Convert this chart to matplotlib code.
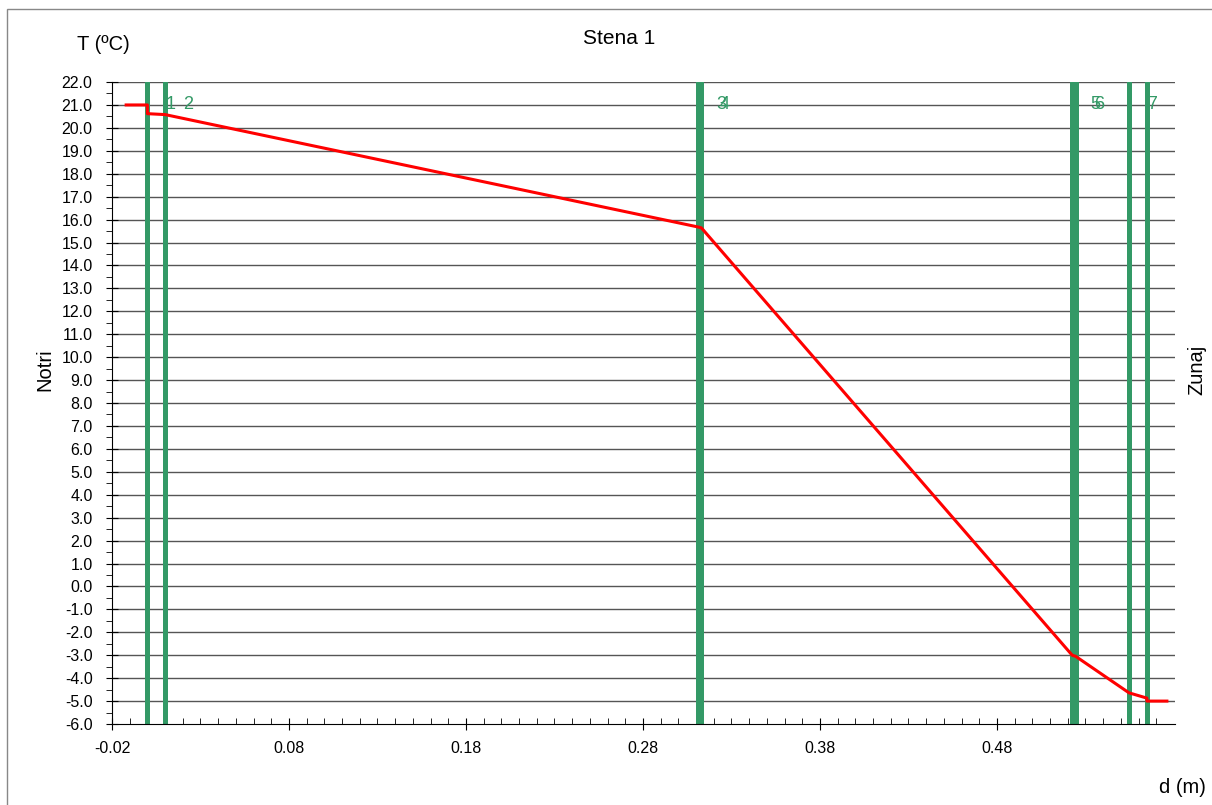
import numpy as np
import matplotlib.pyplot as plt
from matplotlib.ticker import MultipleLocator, FixedLocator
from matplotlib.patches import Rectangle

plt.rcParams['font.family'] = ['Liberation Sans', 'DejaVu Sans']

# Meje plasti (m) in oznake
meje = [0.0, 0.01, 0.311, 0.313, 0.5225, 0.5245, 0.5546, 0.5647]
oznake = ['1', '2', '3', '4', '5', '6', '7']

# Potek temperature skozi steno
d = [-0.012, 0.0, 0.0, 0.01, 0.311, 0.313, 0.5225, 0.5245, 0.5546, 0.5647, 0.5647, 0.576]
T = [21.0, 21.0, 20.62, 20.58, 15.68, 15.64, -3.0, -3.05, -4.64, -4.87, -5.0, -5.0]

fig = plt.figure(figsize=(12.12, 8.05), dpi=100)
ax = fig.add_axes([0.0924, 0.1006, 0.9695 - 0.0924, 0.8981 - 0.1006])

# okvir slike
fig.patches.append(Rectangle((7 / 1212, -0.1), 1.2, 1.1 - 9 / 805,
                             transform=fig.transFigure, fill=False,
                             edgecolor='#888888', linewidth=1.0))

ax.set_xlim(-0.02, 0.5806)
ax.set_ylim(-6.0, 22.0)

for y in np.arange(-5.0, 22.5, 1.0):
    ax.axhline(y, color='#555555', linewidth=1.0, zorder=1)

for x in meje:
    ax.axvline(x, color='#339966', linewidth=3.6, zorder=2)

ax.plot(d, T, color='#ff0000', linewidth=2.2, zorder=3)

for x, s in zip(meje, oznake):
    ax.text(x + 0.0102, 21.0, s, color='#339966', fontsize=13,
            ha='left', va='center', zorder=4)

ax.xaxis.set_major_locator(FixedLocator([-0.02, 0.08, 0.18, 0.28, 0.38, 0.48]))
ax.xaxis.set_minor_locator(FixedLocator(np.arange(-0.02, 0.58, 0.01)))
ax.set_xticklabels(['-0.02', '0.08', '0.18', '0.28', '0.38', '0.48'])
ax.yaxis.set_major_locator(MultipleLocator(1.0))
ax.yaxis.set_minor_locator(MultipleLocator(0.5))
ax.yaxis.set_major_formatter(plt.FormatStrFormatter('%.1f'))

ax.tick_params(axis='x', which='major', direction='inout', length=8, labelsize=11.5, pad=8)
ax.tick_params(axis='x', which='minor', direction='in', length=4)
ax.tick_params(axis='y', which='major', direction='inout', length=8, labelsize=11.5, pad=10)
ax.tick_params(axis='y', which='minor', direction='out', length=4)

for s in ['top', 'right']:
    ax.spines[s].set_visible(False)

fig.text(619 / 1212, 1 - 38 / 805, 'Stena 1', ha='center', va='center', fontsize=15)
fig.text(103 / 1212, 1 - 44 / 805, 'T (ºC)', ha='center', va='center', fontsize=14.5)
fig.text(45 / 1212, 1 - 370 / 805, 'Notri', rotation=90, ha='center', va='center', fontsize=14.5)
fig.text(1197 / 1212, 1 - 370 / 805, 'Zunaj', rotation=90, ha='center', va='center', fontsize=14.5)
fig.text(1182 / 1212, 1 - 787 / 805, 'd (m)', ha='center', va='center', fontsize=14.5)

fig.savefig('out.png', dpi=100)
